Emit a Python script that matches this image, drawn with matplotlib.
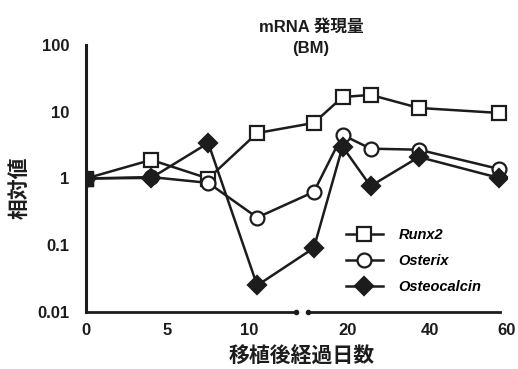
import numpy as np
import matplotlib.pyplot as plt

# values (days after transplant, relative expression)
days = [0, 4, 7.5, 10.5, 15, 19.2, 25.5, 37.3, 57.9]
runx2 = [1.0, 1.9, 1.0, 4.8, 6.8, 16.6, 17.9, 11.4, 9.6]
osterix = [1.0, 1.05, 0.86, 0.26, 0.63, 4.5, 2.8, 2.7, 1.39]
osteocalcin = [1.0, 1.02, 3.4, 0.025, 0.091, 3.0, 0.77, 2.1, 1.02]

x_ticks = [0, 5, 10, 20, 40, 60]
y_ticks = [0.01, 0.1, 1, 10, 100]
y_labels = ['0.01', '0.1', '1', '10', '100']

ink = '#1c1c1c'
cjk = ['Liberation Sans', 'Noto Sans CJK JP']

plt.rcParams['font.family'] = cjk
plt.rcParams['font.weight'] = 'bold'

# broken x axis: piecewise linear, stretched before the break
knot_days = [-100, 0, 10, 13, 14, 20, 40, 60, 200]
knot_pos = [-1630, 0, 163, 212, 221, 262, 344, 421, 960]


def fwd(d):
    return np.interp(d, knot_days, knot_pos)


def inv(p):
    return np.interp(p, knot_pos, knot_days)


fig = plt.figure(figsize=(5.18, 3.69), dpi=100)
ax = fig.add_axes([86 / 518, 1 - 312 / 369, 421 / 518, 267 / 369])

ax.set_xscale('function', functions=(fwd, inv))
ax.set_yscale('log')
ax.set_xlim(0, 60)
ax.set_ylim(0.01, 100)

style = dict(color=ink, lw=1.8, ms=10, mew=1.6)
l1, = ax.plot(days, runx2, marker='s', mfc='white', mec=ink, label='Runx2', **style)
l2, = ax.plot(days, osterix, marker='o', mfc='white', mec=ink, label='Osterix', **style)
l3, = ax.plot(days, osteocalcin, marker='D', mfc=ink, mec=ink, label='Osteocalcin',
              color=ink, lw=1.8, ms=9, mew=1.6)
# overlapping start point shows as a solid square
ax.plot(days[:1], runx2[:1], marker='s', mfc=ink, mec=ink, ms=10, ls='none', zorder=5)

ax.set_xticks(x_ticks)
ax.set_xticklabels([str(t) for t in x_ticks])
ax.set_yticks(y_ticks)
ax.set_yticklabels(y_labels)
ax.yaxis.set_minor_locator(plt.NullLocator())
ax.xaxis.set_minor_locator(plt.NullLocator())
ax.tick_params(axis='both', length=0, labelsize=12, colors=ink)
ax.tick_params(axis='x', pad=8)
ax.tick_params(axis='y', pad=12)

for s in ['top', 'right', 'bottom']:
    ax.spines[s].set_visible(False)
ax.spines['left'].set_linewidth(2.2)
ax.spines['left'].set_color(ink)

# bottom axis drawn in two pieces around the break
ax.plot([0, 12.9], [0.01, 0.01], color=ink, lw=2, clip_on=False,
        marker='o', ms=3, markevery=[1], zorder=4)
ax.plot([14.1, 58.2], [0.01, 0.01], color=ink, lw=2, clip_on=False,
        marker='o', ms=3, markevery=[0], zorder=4)

ax.legend(handles=[l1, l2, l3], loc='upper left', bbox_to_anchor=(0.618, 0.315),
          frameon=False, borderpad=0, borderaxespad=0, handlelength=2.5,
          handletextpad=1.1, labelspacing=0.82,
          prop=dict(family='Liberation Sans', weight='bold', style='italic', size=10.5))

fig.text(311 / 518, 1 - 27 / 369, 'mRNA 発現量', ha='center', va='center',
         fontsize=12, color=ink)
fig.text(311 / 518, 1 - 49 / 369, '(BM)', ha='center', va='center',
         fontsize=12, color=ink)
fig.text(302 / 518, 1 - 357 / 369, '移植後経過日数', ha='center', va='center',
         fontsize=15, color=ink)
fig.text(20 / 518, 1 - 188 / 369, '相対値', ha='center', va='center',
         rotation=90, fontsize=15, color=ink)

fig.savefig('out.png', dpi=100)
